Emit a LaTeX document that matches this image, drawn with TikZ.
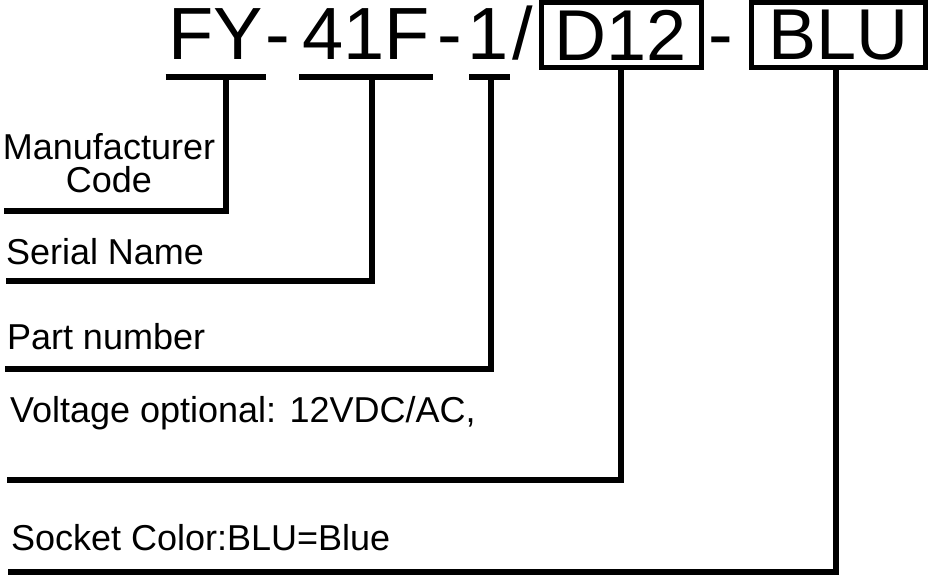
\documentclass[tikz,border=0pt]{standalone}
\usepackage{fontspec}
\setmainfont{Liberation Sans}
\usepackage{tikz}
\usetikzlibrary{positioning}

\begin{document}
\begin{tikzpicture}[x=1pt, y=1pt, line width=6pt,
		part/.style={inner sep=0pt, anchor=base, font=\fontsize{74}{74}\selectfont},
		codebox/.style={draw, line width=5pt, inner sep=0pt, minimum width=#1,
			minimum height=65pt, font=\fontsize{72}{72}\selectfont},
		lbl/.style={inner sep=0pt, anchor=base west, font=\fontsize{36}{33}\selectfont}]
		\useasboundingbox (0,0) rectangle (933,-575);
		
		% 型号各段
		\node[part] (fy)  at (216,-60) {FY};
		\node[part] (d1)  at (278,-60) {-};
		\node[part] (ser) at (366,-60) {41F};
		\node[part] (d2)  at (450,-60) {-};
		\node[part] (pno) at (488,-60) {1};
		\node[part] (sl)  at (523,-60) {/};
		\node[codebox=160pt] (volt) at (621,-35) {D12};
		\node[part] (d3)  at (721,-60) {-};
		\node[codebox=174pt] (col) at (838.5,-35) {BLU};
		\foreach \n in {fy, ser}
		\draw ([yshift=-14pt]\n.south west) -- ([yshift=-14pt]\n.south east);
		\draw ([shift={(5pt,-14pt)}]pno.south west) -- ([shift={(-2pt,-14pt)}]pno.south east);
		
		% 说明文字
		\node[lbl, anchor=south, align=center] (mfr-t) at (109,-196) {Manufacturer\\Code};
		\node[lbl] (ser-t)  at (3,-264)  {Serial Name};
		\node[lbl] (pno-t)  at (4,-349)  {Part number};
		\node[lbl] (volt-t) at (7,-422)  {Voltage optional: 12VDC/AC,};
		\node[lbl] (col-t)  at (8,-550)  {Socket Color:BLU=Blue};
		
		% 引线
		\coordinate (mfr-e)  at (4,-211);
		\coordinate (ser-e)  at (6,-281);
		\coordinate (pno-e)  at (5,-369);
		\coordinate (volt-e) at (7,-480);
		\coordinate (col-e)  at (8,-572);
		\draw ([xshift=10pt,yshift=-14pt]fy.south) |- (mfr-e);
		\draw ([xshift=6pt,yshift=-14pt]ser.south) |- (ser-e);
		\draw ([xshift=3pt,yshift=-14pt]pno.south) |- (pno-e);
		\draw (volt.south) |- (volt-e);
		\draw ([xshift=-3pt]col.south) |- (col-e);
	\end{tikzpicture}
\end{document}
